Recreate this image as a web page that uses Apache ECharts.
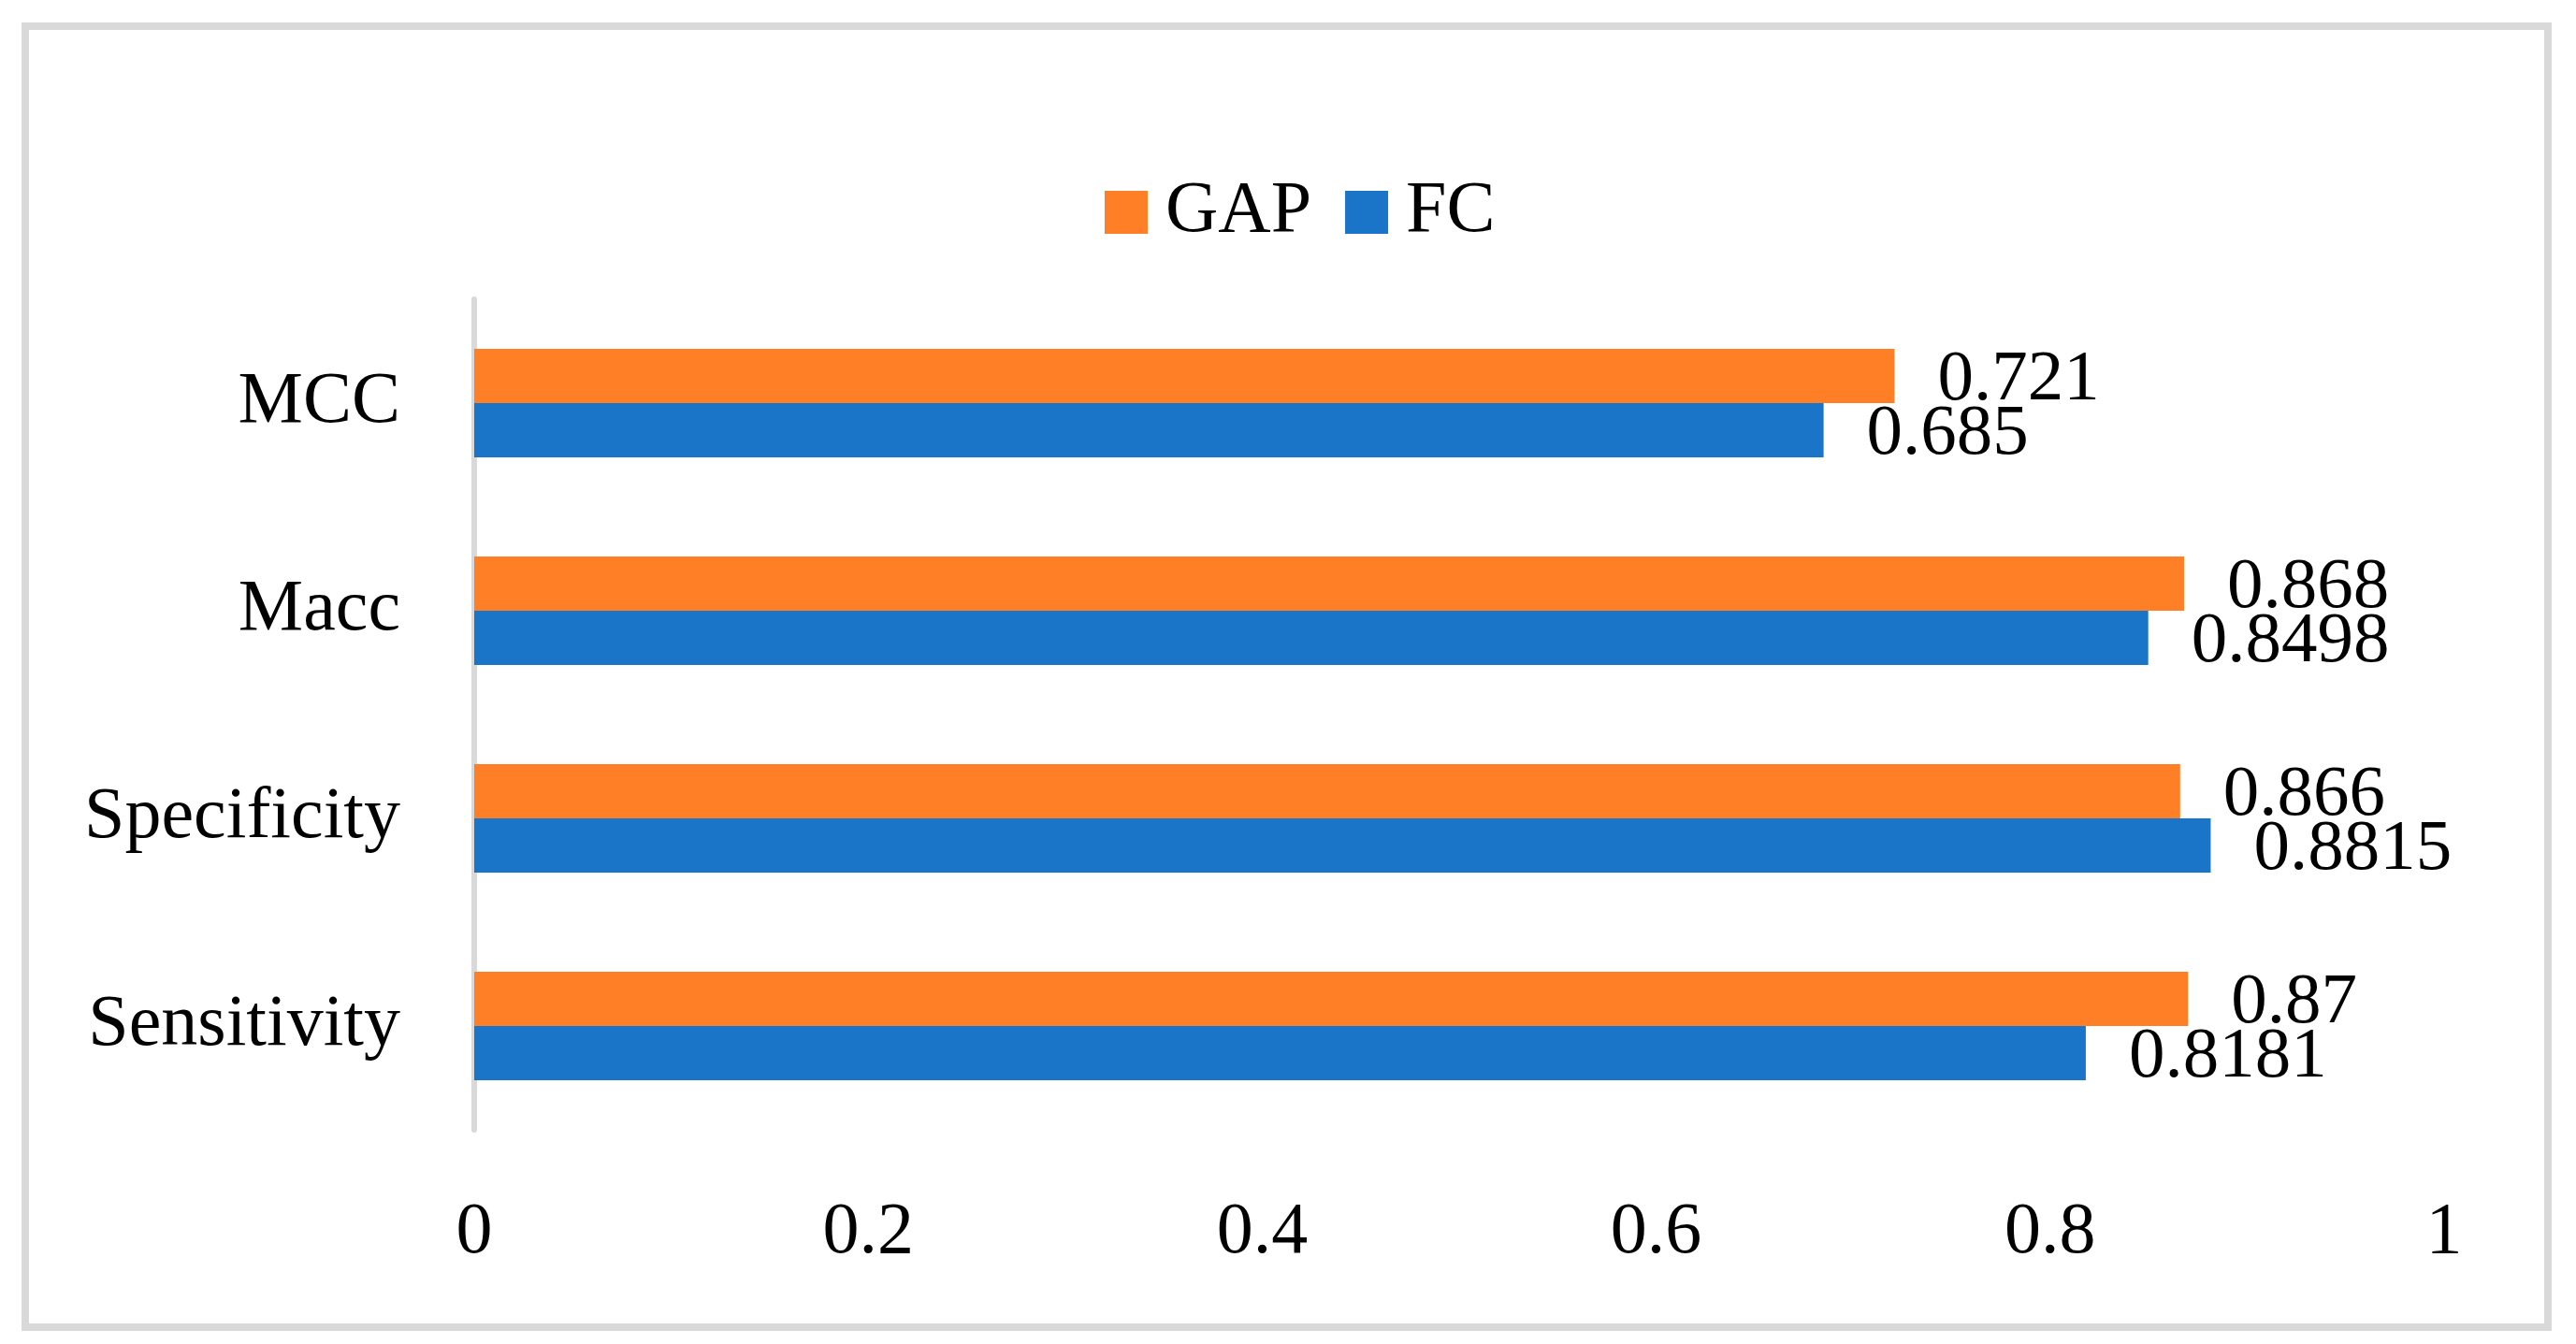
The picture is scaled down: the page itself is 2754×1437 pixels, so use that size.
<!DOCTYPE html>
<html>
<head>
<meta charset="utf-8">
<script src="https://cdn.jsdelivr.net/npm/echarts@6/dist/echarts.min.js"></script>
<style>
html, body { margin: 0; padding: 0; background: #fff; }
#main { width: 2754px; height: 1437px; }
</style>
</head>
<body>
<div id="main"></div>
<script>
// categories, bottom to top as the axis draws them
var categories = ['Sensitivity', 'Specificity', 'Macc', 'MCC'];
var gapValues = [0.87, 0.866, 0.868, 0.721];
var fcValues = [0.8181, 0.8815, 0.8498, 0.685];
var xTicks = [0, 0.2, 0.4, 0.6, 0.8, 1];

var font = 'Liberation Serif';
var orange = '#FF7F27';
var blue = '#1A74C8';

var chart = echarts.init(document.getElementById('main'));

function barLabel() {
	return {
		show: true,
		position: 'right',
		distance: 46,
		offset: [0, 5],
		color: '#000',
		fontFamily: font,
		fontSize: 77,
		formatter: function (p) { return String(p.value); }
	};
}

var option = {
	backgroundColor: '#fff',
	animation: false,
	graphic: [{
		type: 'rect',
		shape: { x: 27, y: 28, width: 2697, height: 1391 },
		style: { fill: 'none', stroke: '#d9d9d9', lineWidth: 8 }
	}],
	legend: {
		data: ['GAP', 'FC'],
		left: 1176,
		top: 183,
		itemWidth: 46,
		itemHeight: 46,
		itemGap: 36,
		icon: 'rect',
		textStyle: {
			fontFamily: font,
			fontSize: 78,
			color: '#000',
			padding: [0, 0, 0, 14]
		}
	},
	grid: {
		left: 507,
		right: 141,
		top: 320,
		bottom: 229,
		containLabel: false
	},
	xAxis: {
		type: 'value',
		min: 0,
		max: 1,
		interval: 0.2,
		axisLine: { show: false },
		axisTick: { show: false },
		splitLine: { show: false },
		axisLabel: {
			margin: 72,
			color: '#000',
			fontFamily: font,
			fontSize: 78,
			formatter: function (v) {
				for (var i = 0; i < xTicks.length; i++) {
					if (Math.abs(xTicks[i] - v) < 1e-9) return String(xTicks[i]);
				}
				return '';
			}
		}
	},
	yAxis: {
		type: 'category',
		data: categories,
		axisLine: { show: true, lineStyle: { color: '#d9d9d9', width: 6 } },
		axisTick: { show: false },
		splitLine: { show: false },
		axisLabel: {
			margin: 79,
			color: '#000',
			fontFamily: font,
			fontSize: 78
		}
	},
	series: [
		{
			name: 'GAP',
			type: 'bar',
			data: gapValues,
			barGap: '0%',
			barCategoryGap: '47.7%',
			itemStyle: { color: orange },
			label: barLabel()
		},
		{
			name: 'FC',
			type: 'bar',
			data: fcValues,
			barGap: '0%',
			barCategoryGap: '47.7%',
			itemStyle: { color: blue },
			label: barLabel()
		}
	]
};

chart.setOption(option);
</script>
</body>
</html>
